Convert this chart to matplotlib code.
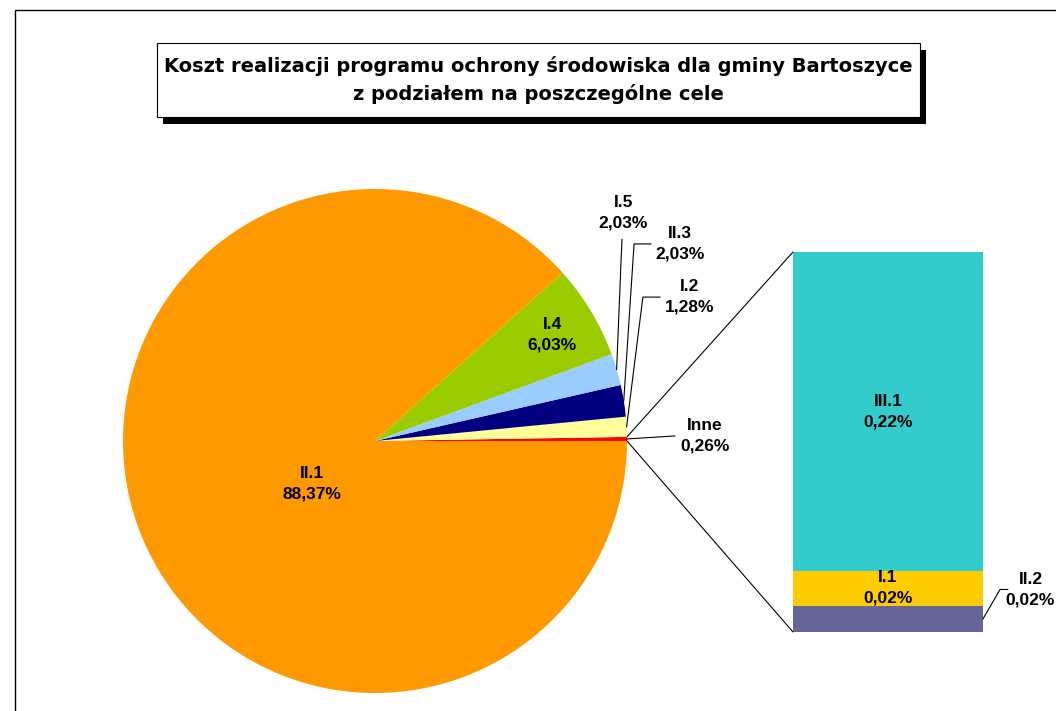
import matplotlib
matplotlib.use("Agg")
import matplotlib.pyplot as plt
from matplotlib.patches import Rectangle, ConnectionPatch
import numpy as np

plt.rcParams['font.family'] = ['Liberation Sans', 'DejaVu Sans']

# ---- data ----
pie_labels = ["Inne", "I.2", "II.3", "I.5", "I.4", "II.1"]
pie_values = [0.26, 1.28, 2.03, 2.03, 6.03, 88.37]
pie_colors = ["#FF0000", "#FFFF99", "#000080", "#99CCFF", "#99CC00", "#FF9900"]

bar_labels = ["II.2", "I.1", "III.1"]          # bottom -> top
bar_values = [0.018, 0.024, 0.218]
bar_display = ["0,02%", "0,02%", "0,22%"]
bar_colors = ["#666699", "#FFCC00", "#33CCCC"]

title = "Koszt realizacji programu ochrony środowiska dla gminy Bartoszyce\nz podziałem na poszczególne cele"

W, H = 1056, 711
fig = plt.figure(figsize=(W / 100, H / 100), dpi=100)

def fx(px):
    return px / W

def fy(py):
    return 1 - py / H

# outer chart border
fig.patches.append(Rectangle((fx(15), fy(720)), fx(1100), 710 / H,
                             transform=fig.transFigure, fill=False,
                             edgecolor="black", linewidth=1.0))

# title box with shadow
bx0, bx1, by0, by1 = 157, 920, 43, 117
fig.patches.append(Rectangle((fx(bx0 + 6), fy(by1 + 7)), fx(bx1 - bx0), (by1 - by0) / H,
                             transform=fig.transFigure, facecolor="black",
                             edgecolor="black", linewidth=0))
fig.patches.append(Rectangle((fx(bx0), fy(by1)), fx(bx1 - bx0), (by1 - by0) / H,
                             transform=fig.transFigure, facecolor="white",
                             edgecolor="black", linewidth=0.8))
fig.text(fx((bx0 + bx1) / 2), fy((by0 + by1) / 2), title, ha="center", va="center",
         fontsize=14, fontweight="bold", linespacing=1.5,
         family=["DejaVu Sans"])

# ---- pie ----
cx, cy, r = 375, 441, 252
ax = fig.add_axes([fx(cx - r), fy(cy + r), fx(2 * r), 2 * r / H])
wedges, _ = ax.pie(pie_values, colors=pie_colors, startangle=0, counterclock=True,
                   radius=1, wedgeprops=dict(linewidth=0))
ax.set_xlim(-1, 1)
ax.set_ylim(-1, 1)
ax.axis("off")

def fmt(v):
    return f"{v:.2f}%".replace(".", ",")

def mid_point(w, rr=1.0):
    a = np.deg2rad((w.theta1 + w.theta2) / 2)
    return rr * np.cos(a), rr * np.sin(a)

lab_fs = 12.5
lab_ls = 1.45
# inside labels
for name, rr in [("II.1", None), ("I.4", 0.82)]:
    i = pie_labels.index(name)
    if rr is None:
        x, y = -0.25, -0.17
    else:
        x, y = mid_point(wedges[i], rr)
    ax.text(x, y, f"{name}\n{fmt(pie_values[i])}", ha="center", va="center",
            fontsize=lab_fs, fontweight="bold", linespacing=lab_ls)

# outside labels with leader lines: (name, bend point, line end, label pos)
outside = [
    ("I.5", None, (0.980, 0.80), (0.985, 0.905)),
    ("II.3", (1.028, 0.782), (1.095, 0.782), (1.21, 0.782)),
    ("I.2", (1.063, 0.571), (1.131, 0.571), (1.25, 0.571)),
    ("Inne", None, (1.19, 0.02), (1.31, 0.02)),
]
for name, bend, end, lpos in outside:
    i = pie_labels.index(name)
    p0 = mid_point(wedges[i])
    pts = [p0] + ([bend] if bend else []) + [end]
    xs, ys = zip(*pts)
    ax.plot(xs, ys, color="black", lw=0.8, clip_on=False)
    ax.text(lpos[0], lpos[1], f"{name}\n{fmt(pie_values[i])}", ha="center", va="center",
            fontsize=lab_fs, fontweight="bold", linespacing=lab_ls, clip_on=False)

# ---- bar of "Inne" ----
bl, br, bt, bb = 793, 983, 252, 632
bax = fig.add_axes([fx(bl), fy(bb), fx(br - bl), (bb - bt) / H])
total = sum(bar_values)
bottom = 0
centers = []
for v, c in zip(bar_values, bar_colors):
    bax.bar(0.5, v, width=1.0, bottom=bottom, color=c, linewidth=0)
    centers.append(bottom + v / 2)
    bottom += v
bax.set_xlim(0, 1)
bax.set_ylim(0, total)
bax.axis("off")

for name, disp, yc in zip(bar_labels, bar_display, centers):
    if name == "II.2":
        bax.plot([1.0, 1.09, 1.13], [yc, total * 0.112, total * 0.112],
                 color="black", lw=0.8, clip_on=False)
        bax.text(1.25, total * 0.112, f"{name}\n{disp}", ha="center", va="center",
                 fontsize=lab_fs, fontweight="bold", linespacing=lab_ls, clip_on=False)
    else:
        bax.text(0.5, yc, f"{name}\n{disp}", ha="center", va="center",
                 fontsize=lab_fs, fontweight="bold", linespacing=lab_ls)

# connector lines
w_inne = wedges[pie_labels.index("Inne")]
a1 = np.deg2rad(w_inne.theta2)
a0 = np.deg2rad(w_inne.theta1)
for (px, py), by in [((np.cos(a1), np.sin(a1)), total), ((np.cos(a0), np.sin(a0)), 0)]:
    con = ConnectionPatch(xyA=(px, py), coordsA=ax.transData,
                          xyB=(0, by), coordsB=bax.transData,
                          color="black", lw=0.8)
    fig.add_artist(con)

fig.savefig("out.png", dpi=100, facecolor="white")
